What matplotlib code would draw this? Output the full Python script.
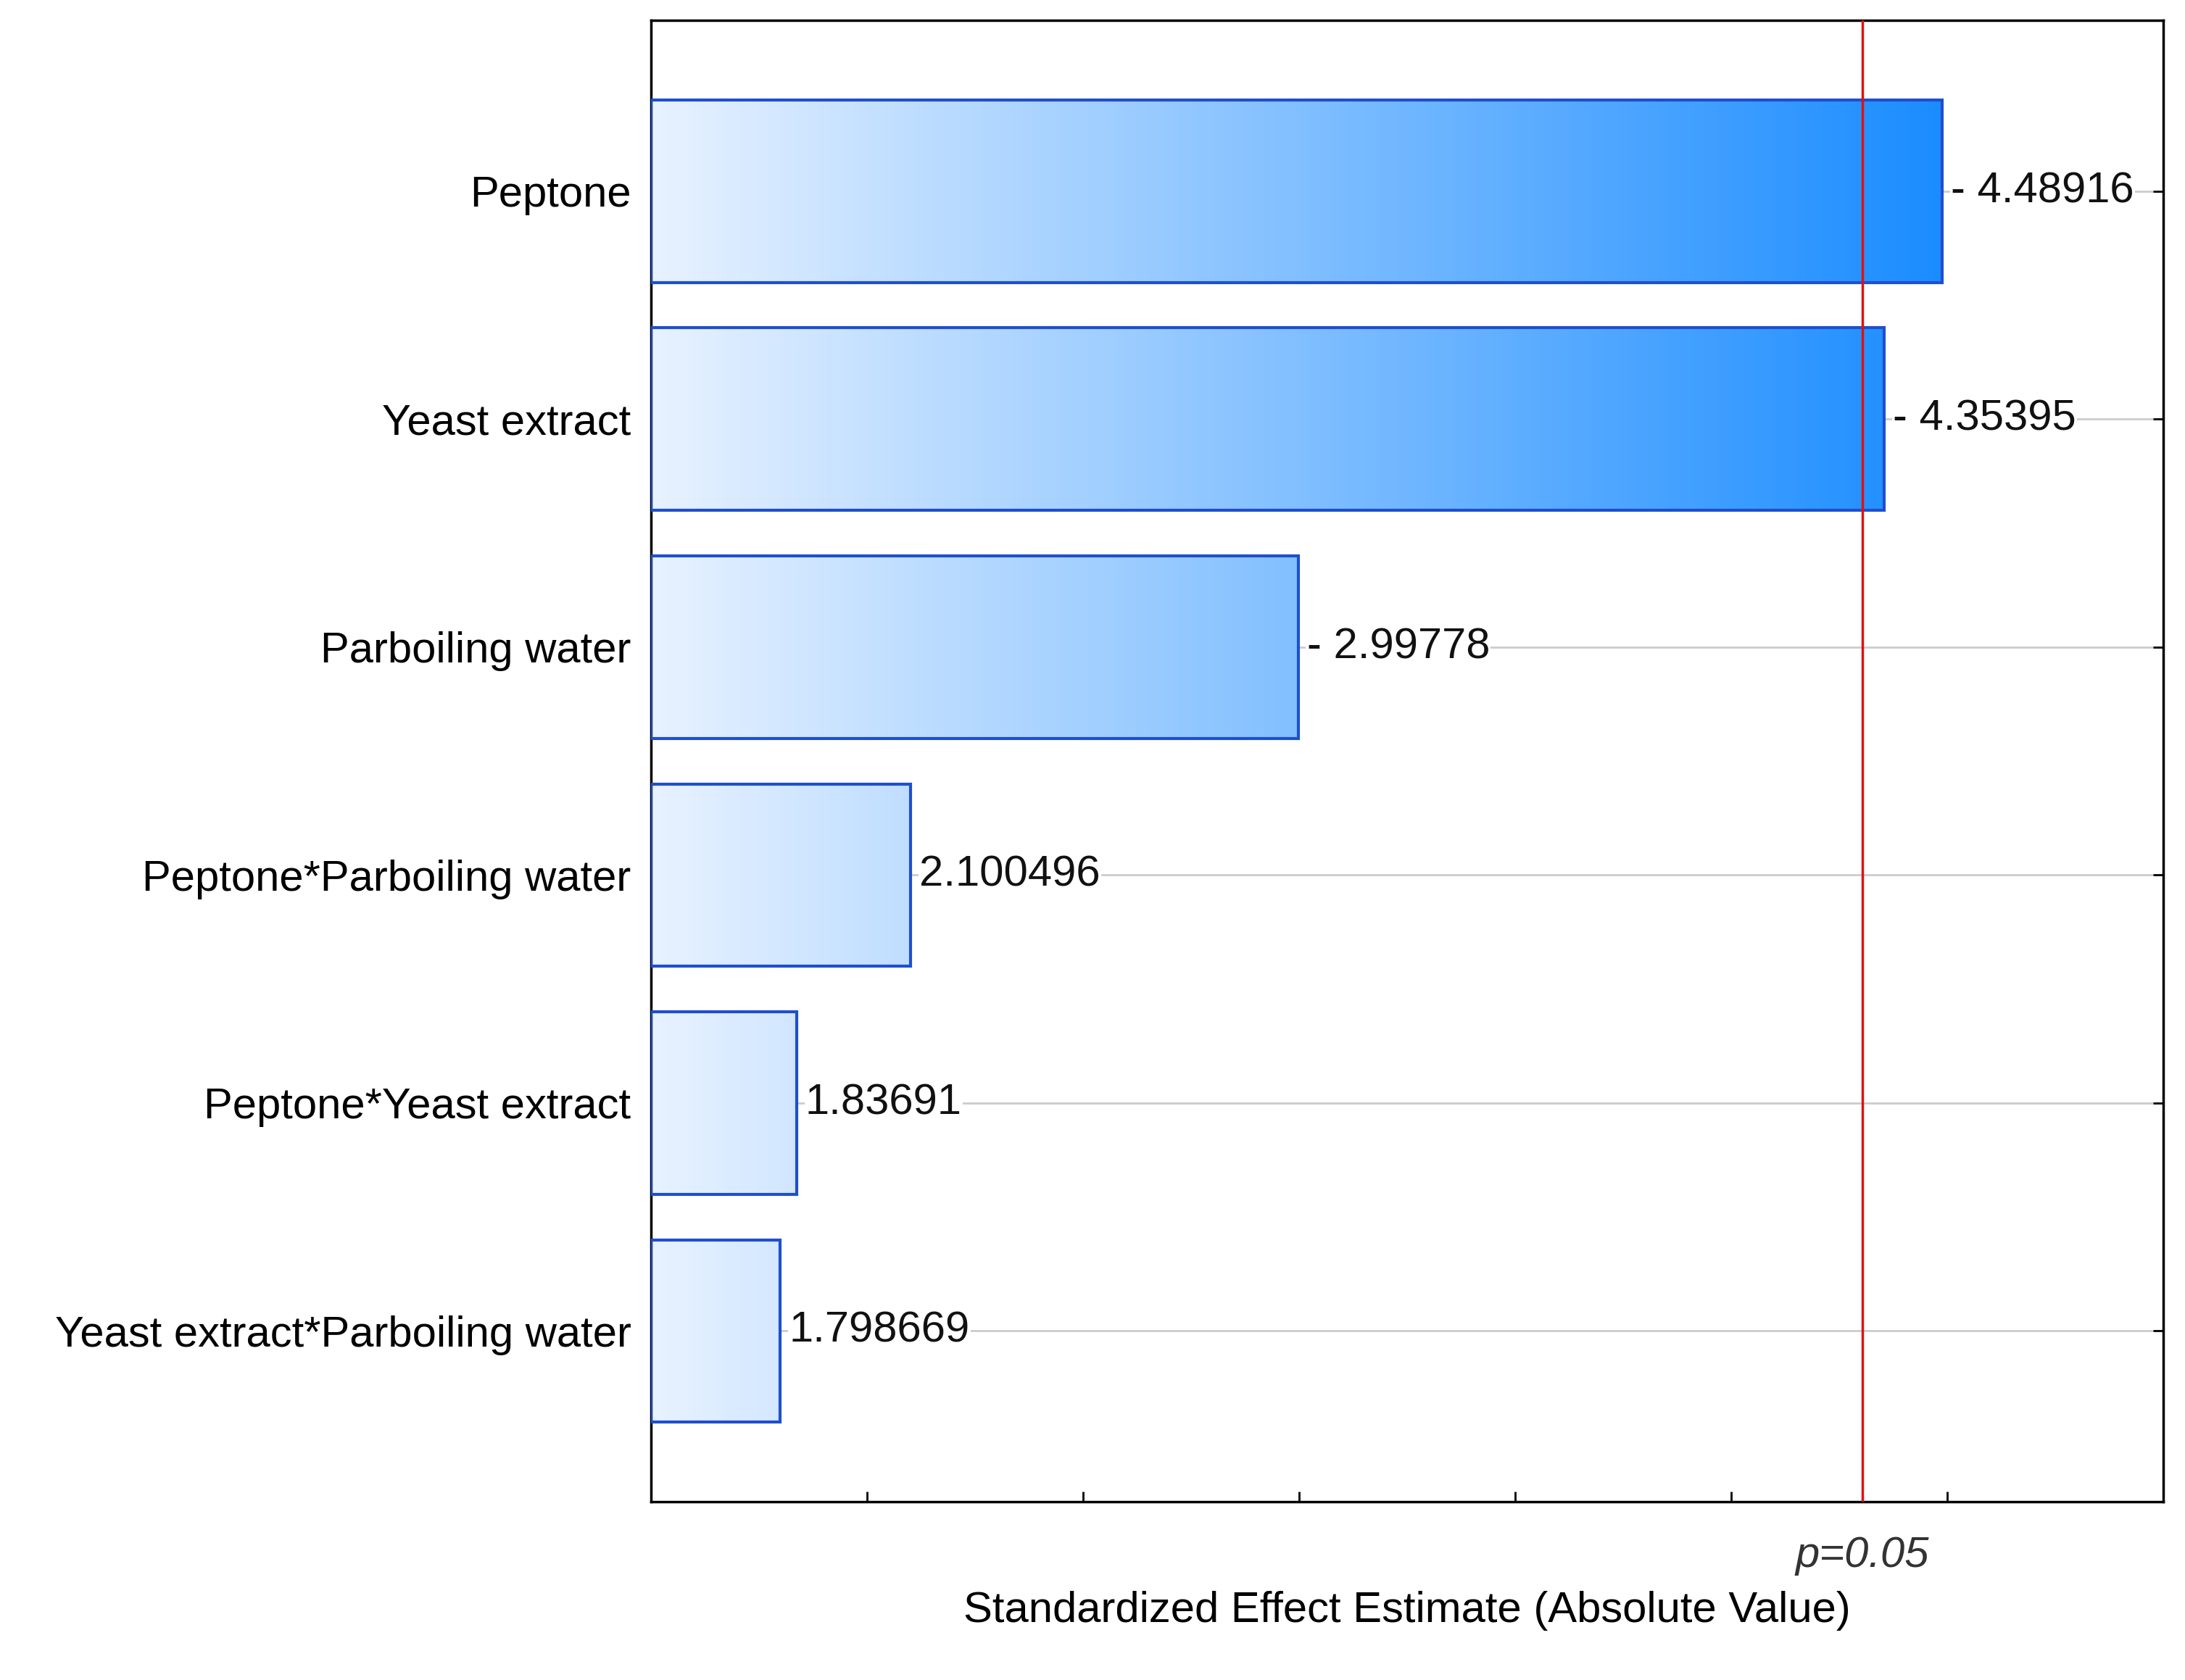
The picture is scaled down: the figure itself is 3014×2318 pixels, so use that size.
import matplotlib
matplotlib.use("Agg")
import matplotlib.pyplot as plt
import numpy as np
from matplotlib.patches import Rectangle
from matplotlib.colors import LinearSegmentedColormap

factors = ["Peptone", "Yeast extract", "Parboiling water",
           "Peptone*Parboiling water", "Peptone*Yeast extract",
           "Yeast extract*Parboiling water"]
effects = [4.48916, 4.35395, 2.99778, 2.100496, 1.83691, 1.798669]
value_labels = ["- 4.48916", "- 4.35395", "- 2.99778", "2.100496", "1.83691", "1.798669"]
p_crit = 4.303

plt.rcParams["font.family"] = "Liberation Sans"
fig = plt.figure(figsize=(30.14, 23.18), dpi=100)
ax = fig.add_axes([0.298, 0.106, 0.692, 0.882])

x0, x1 = 1.5, 5.0
ax.set_xlim(x0, x1)
ax.set_ylim(5.75, -0.75)

cmap = LinearSegmentedColormap.from_list("g", ["#e8f2ff", "#1a8cff"])
grad = np.linspace(0, 1, 512).reshape(1, -1)

for i, v in enumerate(effects):
    ax.axhline(i, color="#cccccc", lw=2, zorder=0)
    rect = Rectangle((x0, i - 0.4), v - x0, 0.8, fill=False,
                     edgecolor="#1f4fcc", lw=3, zorder=3)
    ax.add_patch(rect)
    im = ax.imshow(grad, extent=(x0, 4.5, i + 0.4, i - 0.4), cmap=cmap,
                   aspect="auto", zorder=2)
    im.set_clip_path(rect)
    ax.text(v + 0.02, i, value_labels[i], va="center", ha="left",
            fontsize=43, zorder=4, color="#111111",
            bbox=dict(facecolor="white", edgecolor="none", pad=1))

ax.axvline(p_crit, color="#e01010", lw=2.5, zorder=5)

ax.set_yticks(range(len(factors)))
ax.set_yticklabels(factors, fontsize=43)
ax.set_xticks(np.arange(2.0, 5.01, 0.5))
ax.set_xticklabels([])
ax.tick_params(axis="x", direction="in", length=10, width=2, top=False)
ax.tick_params(axis="y", direction="in", length=10, width=2, right=True, pad=20)
for s in ax.spines.values():
    s.set_linewidth(2.5)

ax.text(p_crit, 5.75 + 0.15, "p=0.05", ha="center", va="top",
        fontsize=43, style="italic", color="#333333")
ax.set_xlabel("Standardized Effect Estimate (Absolute Value)", fontsize=43, labelpad=85)

fig.savefig("out.png", dpi=100)
